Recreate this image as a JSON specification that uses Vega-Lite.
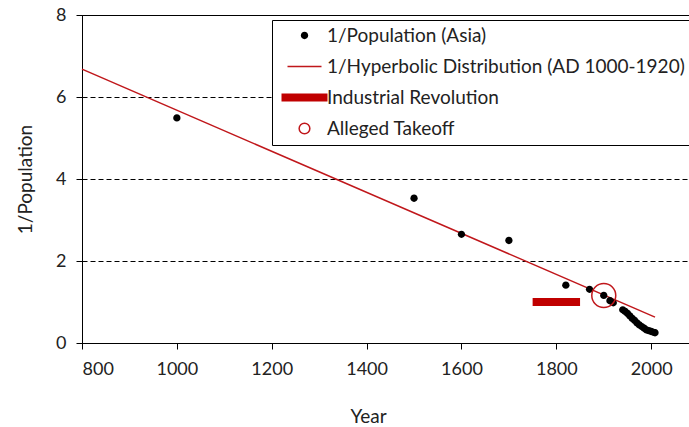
{
  "$schema": "https://vega.github.io/schema/vega-lite/v6.json",
  "width": 610,
  "height": 328,
  "autosize": "none",
  "padding": {"left": 82, "top": 15, "right": 0, "bottom": 84},
  "background": "white",
  "config": {
    "font": "Lato",
    "view": {"stroke": "black", "strokeWidth": 1},
    "axis": {
      "labelFont": "Lato", "labelFontSize": 18, "labelColor": "#222",
      "titleFont": "Lato", "titleFontSize": 19, "titleFontWeight": "normal", "titleColor": "#222",
      "domainColor": "black", "tickColor": "black", "tickSize": 6, "domainWidth": 1, "tickWidth": 1
    },
    "legend": {
      "labelFont": "Lato", "labelFontSize": 19, "labelColor": "#222", "labelLimit": 600,
      "symbolSize": 100, "symbolStrokeWidth": 1.5
    }
  },
  "datasets": {
    "asia": [
      {"year": 1000, "value": 5.49, "series": "1/Population (Asia)"},
      {"year": 1500, "value": 3.53, "series": "1/Population (Asia)"},
      {"year": 1600, "value": 2.65, "series": "1/Population (Asia)"},
      {"year": 1700, "value": 2.50, "series": "1/Population (Asia)"},
      {"year": 1820, "value": 1.41, "series": "1/Population (Asia)"},
      {"year": 1870, "value": 1.31, "series": "1/Population (Asia)"},
      {"year": 1900, "value": 1.16, "series": "1/Population (Asia)"},
      {"year": 1913, "value": 1.03, "series": "1/Population (Asia)"},
      {"year": 1920, "value": 0.98, "series": "1/Population (Asia)"},
      {"year": 1940, "value": 0.81, "series": "1/Population (Asia)"},
      {"year": 1945, "value": 0.77, "series": "1/Population (Asia)"},
      {"year": 1950, "value": 0.72, "series": "1/Population (Asia)"},
      {"year": 1955, "value": 0.66, "series": "1/Population (Asia)"},
      {"year": 1960, "value": 0.60, "series": "1/Population (Asia)"},
      {"year": 1965, "value": 0.55, "series": "1/Population (Asia)"},
      {"year": 1970, "value": 0.49, "series": "1/Population (Asia)"},
      {"year": 1975, "value": 0.44, "series": "1/Population (Asia)"},
      {"year": 1980, "value": 0.40, "series": "1/Population (Asia)"},
      {"year": 1985, "value": 0.36, "series": "1/Population (Asia)"},
      {"year": 1990, "value": 0.32, "series": "1/Population (Asia)"},
      {"year": 1995, "value": 0.30, "series": "1/Population (Asia)"},
      {"year": 2000, "value": 0.28, "series": "1/Population (Asia)"},
      {"year": 2005, "value": 0.26, "series": "1/Population (Asia)"},
      {"year": 2008, "value": 0.25, "series": "1/Population (Asia)"}
    ],
    "fit": [
      {"year": 800, "value": 6.68},
      {"year": 2008, "value": 0.63}
    ],
    "industrial": [
      {"start": 1750, "end": 1850, "value": 1.0}
    ],
    "takeoff": [
      {"year": 1900, "value": 1.16, "series": "Alleged Takeoff"}
    ]
  },
  "layer": [
    {
      "data": {"name": "fit"},
      "mark": {"type": "line", "color": "#c0171b", "strokeWidth": 1.5},
      "encoding": {
        "x": {"field": "year", "type": "quantitative", "scale": {"domain": [800, 2086], "nice": false, "zero": false},
              "axis": {"values": [800, 1000, 1200, 1400, 1600, 1800, 2000], "format": "d", "title": "Year", "grid": false, "labelPadding": 11, "titleX": 286, "titleY": 79, "titleBaseline": "alphabetic"}},
        "y": {"field": "value", "type": "quantitative", "scale": {"domain": [0, 8], "nice": false},
              "axis": {"values": [0, 2, 4, 6, 8], "title": "1/Population", "grid": true, "gridDash": [5, 3], "gridColor": "black", "gridWidth": 1, "labelPadding": 10, "titlePadding": 20}}
      }
    },
    {
      "data": {"name": "industrial"},
      "mark": {"type": "rule", "color": "#c00000", "strokeWidth": 8, "strokeCap": "butt"},
      "encoding": {
        "x": {"field": "start", "type": "quantitative"},
        "x2": {"field": "end"},
        "y": {"field": "value", "type": "quantitative"}
      }
    },
    {
      "data": {"name": "asia"},
      "mark": {"type": "point", "filled": true, "size": 100, "opacity": 1, "strokeWidth": 1.5},
      "encoding": {
        "x": {"field": "year", "type": "quantitative"},
        "y": {"field": "value", "type": "quantitative"},
        "shape": {"field": "series", "type": "nominal",
          "scale": {"domain": ["1/Population (Asia)", "1/Hyperbolic Distribution (AD 1000-1920)", "Industrial Revolution", "Alleged Takeoff"],
                    "range": ["M0.73,0A0.73,0.73,0,1,1,-0.73,0A0.73,0.73,0,1,1,0.73,0Z", "M-3.4,0H3.4", "M-4.6,-0.8H4.6V0.8H-4.6Z", "M1.07,0A1.07,1.07,0,1,1,-1.07,0A1.07,1.07,0,1,1,1.07,0Z"]},
          "legend": {"title": null, "orient": "none", "legendX": 190, "legendY": 5, "padding": 6, "strokeColor": "black", "fillColor": "white", "symbolOffset": 17, "labelOffset": 13, "rowPadding": 11}},
        "fill": {"field": "series", "type": "nominal",
          "scale": {"domain": ["1/Population (Asia)", "1/Hyperbolic Distribution (AD 1000-1920)", "Industrial Revolution", "Alleged Takeoff"],
                    "range": ["black", "transparent", "#c00000", "transparent"]},
          "legend": {"title": null, "orient": "none", "legendX": 190, "legendY": 5}},
        "stroke": {"field": "series", "type": "nominal",
          "scale": {"domain": ["1/Population (Asia)", "1/Hyperbolic Distribution (AD 1000-1920)", "Industrial Revolution", "Alleged Takeoff"],
                    "range": ["transparent", "#c0171b", "transparent", "#c0171b"]},
          "legend": {"title": null, "orient": "none", "legendX": 190, "legendY": 5}}
      }
    },
    {
      "data": {"name": "takeoff"},
      "mark": {"type": "point", "filled": false, "size": 502, "opacity": 1, "strokeWidth": 1.5},
      "encoding": {
        "x": {"field": "year", "type": "quantitative"},
        "y": {"field": "value", "type": "quantitative"},
        "shape": {"field": "series", "type": "nominal"},
        "fill": {"field": "series", "type": "nominal"},
        "stroke": {"field": "series", "type": "nominal"}
      }
    }
  ]
}
